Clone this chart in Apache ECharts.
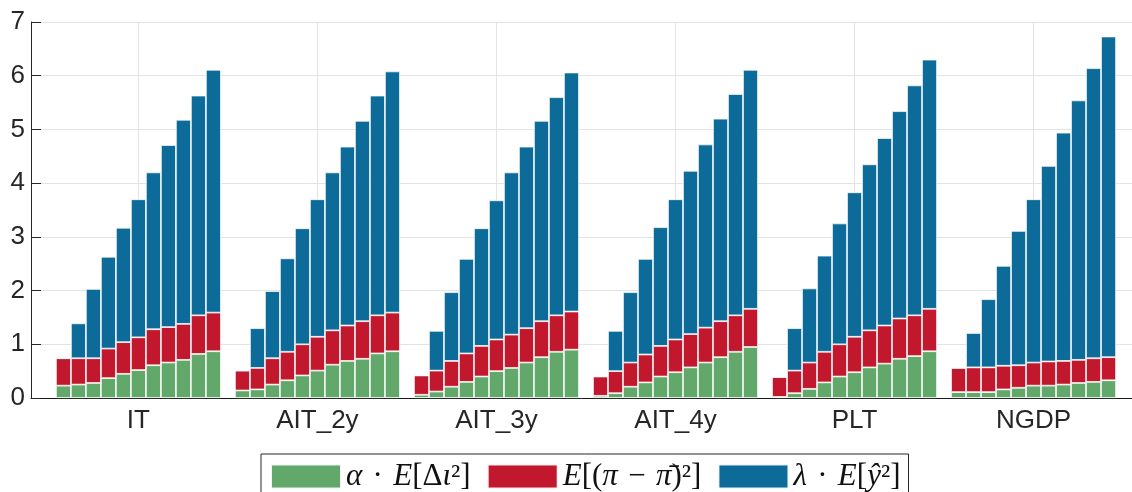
<!DOCTYPE html>
<html>
<head>
<meta charset="utf-8">
<script src="https://cdn.jsdelivr.net/npm/echarts@6/dist/echarts.min.js"></script>
<style>
  html, body { margin: 0; padding: 0; background: #fff; }
  #chart { width: 1132px; height: 492px; }
</style>
</head>
<body>
<div id="chart"></div>
<script>
// Groups (policy regimes) shown on the x axis
const categories = ['IT', 'AIT_2y', 'AIT_3y', 'AIT_4y', 'PLT', 'NGDP'];

// Legend entries (one per stacked component)
const componentNames = ['α · E[Δι²]', 'E[(π − π̄)²]', 'λ · E[ŷ²]'];

// Stacked segment values: one row per category, 11 bars per row
const alphaTerm = [
  [0.23, 0.25, 0.28, 0.37, 0.45, 0.52, 0.61, 0.66, 0.71, 0.82, 0.87],
  [0.14, 0.16, 0.25, 0.33, 0.42, 0.51, 0.62, 0.69, 0.73, 0.83, 0.87],
  [0.06, 0.12, 0.21, 0.30, 0.40, 0.50, 0.56, 0.66, 0.76, 0.86, 0.90],
  [0.04, 0.09, 0.21, 0.29, 0.40, 0.48, 0.57, 0.66, 0.76, 0.86, 0.95],
  [0.02, 0.09, 0.17, 0.29, 0.40, 0.48, 0.57, 0.64, 0.73, 0.78, 0.87],
  [0.11, 0.11, 0.11, 0.16, 0.19, 0.23, 0.23, 0.25, 0.28, 0.30, 0.33]
];
const inflationTerm = [
  [0.51, 0.49, 0.46, 0.55, 0.59, 0.61, 0.67, 0.66, 0.67, 0.72, 0.72],
  [0.37, 0.40, 0.49, 0.53, 0.58, 0.63, 0.64, 0.66, 0.70, 0.71, 0.72],
  [0.36, 0.39, 0.48, 0.53, 0.57, 0.59, 0.62, 0.64, 0.67, 0.68, 0.71],
  [0.36, 0.41, 0.45, 0.52, 0.57, 0.61, 0.62, 0.65, 0.67, 0.68, 0.71],
  [0.37, 0.42, 0.49, 0.57, 0.60, 0.66, 0.69, 0.71, 0.75, 0.76, 0.79],
  [0.45, 0.46, 0.46, 0.44, 0.42, 0.43, 0.45, 0.44, 0.43, 0.44, 0.43]
];
const outputTerm = [
  [0, 0.65, 1.29, 1.71, 2.13, 2.57, 2.92, 3.39, 3.80, 4.09, 4.52],
  [0, 0.74, 1.25, 1.74, 2.16, 2.56, 2.94, 3.33, 3.73, 4.09, 4.49],
  [0, 0.74, 1.28, 1.76, 2.19, 2.59, 3.02, 3.38, 3.73, 4.06, 4.45],
  [0, 0.75, 1.31, 1.78, 2.21, 2.61, 3.04, 3.41, 3.77, 4.12, 4.45],
  [0, 0.79, 1.38, 1.79, 2.25, 2.69, 3.09, 3.49, 3.86, 4.28, 4.64],
  [0, 0.64, 1.27, 1.86, 2.50, 3.04, 3.64, 4.25, 4.83, 5.40, 5.97]
];

const yTicks = [0, 1, 2, 3, 4, 5, 6, 7];

const colors = ['#61a86a', '#c2182d', '#0c6b98'];
const componentData = [alphaTerm, inflationTerm, outputTerm];

const sp = '\u2004';
const legendRich = {
  [componentNames[0]]: '{i|α}' + sp + '·' + sp + '{i|E}[Δ{i|ι}²]',
  [componentNames[1]]: '{i|E}[({i|π}' + sp + '−' + sp + '{i|π̄})²]',
  [componentNames[2]]: '{i|λ}' + sp + '·' + sp + '{i|E}[{i|ŷ}²]'
};

// layout of the two overlapping grids (background axes + bar groups)
const W = 1132, plotLeft = 31, plotRight = 0, xMin = 0.4, xMax = 6.55;
const pxPerUnit = (W - plotLeft - plotRight) / (xMax - xMin);
const barGridLeft = plotLeft + (0.5 - xMin) * pxPerUnit;
const barGridWidth = categories.length * pxPerUnit;

const nBars = alphaTerm[0].length;
const series = [];
for (let k = 0; k < nBars; k++) {
  for (let c = 0; c < 3; c++) {
    series.push({
      type: 'bar',
      name: componentNames[c],
      stack: 'bar' + k,
      xAxisIndex: 1,
      yAxisIndex: 1,
      barWidth: 15,
      barGap: '0%',
      itemStyle: { color: colors[c], borderColor: 'rgba(255,255,255,0.9)', borderWidth: 0.8 },
      emphasis: { disabled: true },
      data: componentData[c].map(row => row[k])
    });
  }
}

const labelFont = { color: '#262626', fontFamily: 'Liberation Sans, Arial, sans-serif', fontSize: 26 };

const chart = echarts.init(document.getElementById('chart'), null, { renderer: 'canvas' });
chart.setOption({
  animation: false,
  backgroundColor: '#ffffff',
  grid: [
    { left: plotLeft, right: plotRight, top: 22, bottom: 94, containLabel: false },
    { left: barGridLeft, width: barGridWidth, top: 22, bottom: 94, containLabel: false }
  ],
  xAxis: [
    {
      type: 'value', gridIndex: 0, min: xMin, max: xMax,
      axisLine: { show: true, onZero: false, lineStyle: { color: '#1a1a1a', width: 1 } },
      axisTick: { show: false },
      splitLine: { show: true, lineStyle: { color: '#e3e3e3', width: 1 } },
      axisLabel: { show: false }
    },
    {
      type: 'category', gridIndex: 1, data: categories,
      axisLine: { show: false },
      axisTick: { show: false },
      splitLine: { show: false },
      axisLabel: Object.assign({ margin: 10, interval: 0 }, labelFont)
    }
  ],
  yAxis: [
    {
      type: 'value', gridIndex: 0,
      min: yTicks[0], max: yTicks[yTicks.length - 1], interval: 1,
      axisLine: { show: true, lineStyle: { color: '#262626', width: 1 } },
      axisTick: { show: true, inside: true, length: 10, lineStyle: { color: '#262626' } },
      splitLine: { show: true, lineStyle: { color: '#e3e3e3', width: 1 } },
      axisLabel: Object.assign({ margin: 6 }, labelFont)
    },
    {
      type: 'value', gridIndex: 1,
      min: yTicks[0], max: yTicks[yTicks.length - 1], interval: 1,
      show: false
    }
  ],
  legend: {
    data: componentNames,
    left: 261,
    top: 454,
    orient: 'horizontal',
    icon: 'rect',
    itemWidth: 70,
    itemHeight: 24,
    itemGap: 16,
    padding: [7, 8, 20, 9],
    borderColor: '#262626',
    borderWidth: 1,
    selectedMode: false,
    formatter: name => legendRich[name],
    textStyle: {
      color: '#111',
      fontFamily: 'Liberation Serif, DejaVu Serif, serif',
      fontSize: 31,
      rich: {
        i: { fontStyle: 'italic', fontFamily: 'Liberation Serif, DejaVu Serif, serif', fontSize: 31, color: '#111' }
      }
    }
  },
  series: series
});
</script>
</body>
</html>
